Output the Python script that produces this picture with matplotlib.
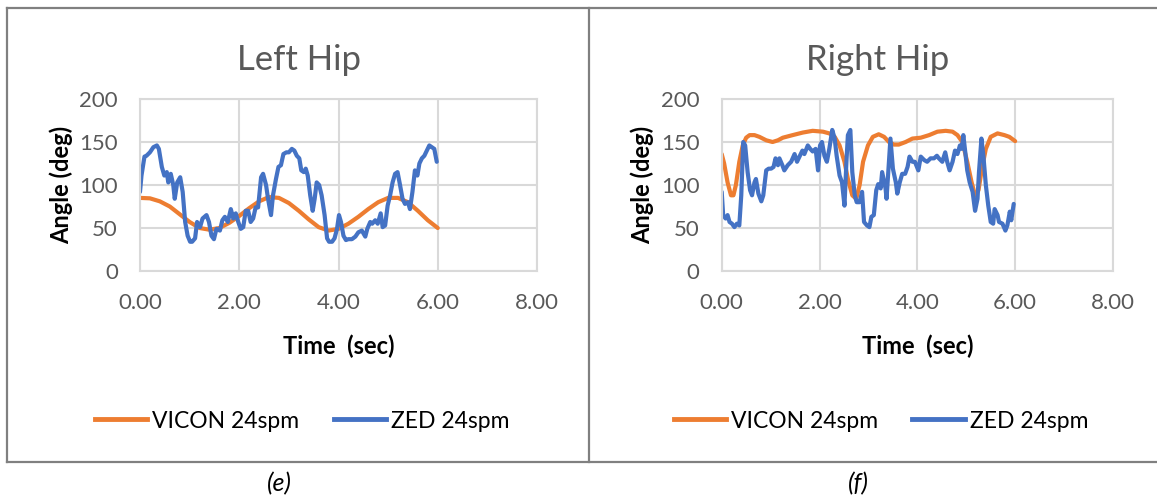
import matplotlib.pyplot as plt
from matplotlib.lines import Line2D

plt.rcParams['font.family'] = ['Lato', 'DejaVu Sans']

# Left hip - VICON reference (sec, deg)
left_vicon_t = [0.0, 0.2, 0.4, 0.6, 0.8, 1.0, 1.2, 1.4, 1.6, 1.8, 2.0, 2.2, 2.4, 2.6, 2.8, 3.0,
                3.2, 3.4, 3.6, 3.8, 4.0, 4.2, 4.4, 4.6, 4.8, 5.0, 5.2, 5.4, 5.6, 5.8, 6.0]
left_vicon = [85, 84.5, 81, 75, 66, 57, 50, 48, 50, 56, 64, 73, 81, 86, 85, 79,
              70, 60, 51, 47, 49, 55, 63, 72, 80, 85, 85, 80, 70, 59, 50]

# Left hip - ZED camera
left_zed_t = [0.00, 0.03, 0.09, 0.13, 0.20, 0.27, 0.34, 0.38, 0.44, 0.49, 0.54, 0.57, 0.62, 0.67,
              0.70, 0.75, 0.81, 0.86, 0.91, 0.96, 1.01, 1.05, 1.11, 1.15, 1.21, 1.26, 1.34, 1.39,
              1.44, 1.49, 1.54, 1.61, 1.66, 1.71, 1.77, 1.83, 1.88, 1.93, 1.98, 2.03, 2.08, 2.13,
              2.18, 2.23, 2.28, 2.33, 2.38, 2.44, 2.48, 2.54, 2.58, 2.64, 2.68, 2.74, 2.79, 2.84,
              2.89, 2.95, 3.00, 3.06, 3.11, 3.16, 3.21, 3.25, 3.30, 3.34, 3.38, 3.43, 3.48, 3.52,
              3.56, 3.61, 3.66, 3.72, 3.77, 3.81, 3.87, 3.92, 3.97, 4.01, 4.05, 4.10, 4.15, 4.20,
              4.27, 4.34, 4.40, 4.47, 4.54, 4.58, 4.64, 4.68, 4.74, 4.79, 4.85, 4.89, 4.94, 4.99,
              5.04, 5.09, 5.14, 5.19, 5.24, 5.29, 5.34, 5.40, 5.44, 5.49, 5.54, 5.59, 5.63, 5.68,
              5.73, 5.78, 5.83, 5.88, 5.93, 5.98]
left_zed = [92, 111, 133, 134, 138, 144, 146, 142, 121, 111, 115, 103, 113, 100,
            84, 103, 109, 92, 57, 41, 34, 34, 38, 57, 51, 61, 65, 57,
            41, 37, 49, 47, 59, 63, 57, 72, 61, 67, 57, 49, 51, 70,
            70, 57, 61, 74, 74, 109, 113, 100, 84, 65, 88, 107, 121, 123,
            136, 138, 138, 142, 140, 134, 131, 117, 115, 119, 111, 88, 70, 84,
            103, 100, 88, 65, 38, 34, 34, 38, 49, 65, 57, 41, 36, 37,
            37, 40, 45, 47, 40, 49, 57, 55, 59, 55, 67, 51, 53, 76,
            88, 103, 113, 115, 100, 84, 78, 80, 72, 92, 117, 111, 125, 131,
            134, 140, 146, 144, 142, 127]

# Right hip - VICON reference
right_vicon_t = [0.00, 0.05, 0.12, 0.19, 0.24, 0.29, 0.36, 0.43, 0.50, 0.57, 0.67, 0.77, 0.91, 1.04,
                 1.15, 1.25, 1.45, 1.66, 1.86, 2.07, 2.20, 2.31, 2.41, 2.51, 2.58, 2.67, 2.75, 2.82,
                 2.89, 2.99, 3.09, 3.21, 3.32, 3.42, 3.52, 3.62, 3.76, 3.90, 4.07, 4.24, 4.41, 4.58,
                 4.72, 4.82, 4.92, 5.02, 5.11, 5.18, 5.25, 5.32, 5.40, 5.50, 5.64, 5.78, 5.88, 6.00]
right_vicon = [136, 125, 103, 88, 88, 100, 127, 146, 155, 158, 158, 156, 152, 150,
               152, 155, 158, 161, 163, 162, 160, 156, 146, 127, 107, 88, 84, 100,
               127, 146, 156, 159, 156, 150, 147, 147, 150, 154, 155, 158, 162, 163,
               162, 158, 150, 127, 103, 88, 94, 119, 142, 156, 160, 158, 156, 151]

# Right hip - ZED camera
right_zed_t = [0.00, 0.03, 0.08, 0.12, 0.16, 0.21, 0.26, 0.31, 0.36, 0.40,
               0.44, 0.48, 0.53, 0.58, 0.62, 0.67, 0.70, 0.75, 0.81, 0.85,
               0.91, 0.96, 1.01, 1.06, 1.10, 1.15, 1.18, 1.24, 1.28, 1.35,
               1.42, 1.49, 1.54, 1.59, 1.65, 1.69, 1.76, 1.81, 1.86, 1.92,
               1.97, 2.01, 2.05, 2.10, 2.15, 2.20, 2.26, 2.31, 2.35, 2.41,
               2.46, 2.51, 2.55, 2.58, 2.63, 2.67, 2.72, 2.76, 2.82, 2.87,
               2.91, 2.97, 3.02, 3.06, 3.11, 3.16, 3.20, 3.25, 3.28, 3.35,
               3.37, 3.41, 3.45, 3.50, 3.56, 3.59, 3.64, 3.69, 3.75, 3.80,
               3.84, 3.90, 3.95, 4.02, 4.07, 4.14, 4.20, 4.27, 4.34, 4.40,
               4.44, 4.51, 4.57, 4.61, 4.66, 4.72, 4.77, 4.82, 4.87, 4.91,
               4.94, 4.98, 5.02, 5.07, 5.13, 5.18, 5.23, 5.26, 5.31, 5.35,
               5.40, 5.45, 5.50, 5.55, 5.58, 5.64, 5.67, 5.74, 5.80, 5.84,
               5.89, 5.92, 5.97]
right_zed = [92, 65, 61, 65, 57, 55, 51, 55, 53, 88,
             150, 146, 115, 94, 88, 103, 107, 90, 81, 88,
             117, 119, 119, 121, 131, 123, 131, 123, 117, 123,
             127, 136, 127, 133, 140, 136, 146, 142, 139, 142,
             117, 146, 150, 134, 127, 142, 164, 154, 134, 111,
             103, 76, 127, 158, 164, 115, 88, 80, 80, 92,
             57, 53, 51, 63, 65, 94, 101, 96, 115, 96,
             84, 119, 154, 119, 103, 90, 103, 113, 113, 121,
             133, 127, 127, 117, 133, 129, 127, 131, 131, 134,
             131, 127, 138, 127, 117, 127, 140, 136, 146, 142,
             158, 138, 117, 103, 92, 70, 84, 115, 154, 134,
             100, 76, 57, 55, 72, 65, 57, 55, 47, 53,
             69, 59, 78]

x_ticks = [0, 2, 4, 6, 8]
x_tick_labels = ['0.00', '2.00', '4.00', '6.00', '8.00']
y_ticks = [0, 50, 100, 150, 200]
titles = ['Left Hip', 'Right Hip']
captions = ['(e)', '(f)']
series_names = ['VICON 24spm', 'ZED 24spm']

ORANGE = '#ED7D31'
BLUE = '#4472C4'
GRID = '#D9D9D9'
TEXT = '#595959'
BORDER = '#808080'

W, H = 1157, 497
fig = plt.figure(figsize=(W / 100, H / 100), dpi=100)


def fx(x):
    return x / W


def fy(y):
    return 1 - y / H


def draw_chart(left, right, center, title, vicon_t, vicon, zed_t, zed, caption):
    ax = fig.add_axes([fx(left), fy(271), fx(right - left), (271 - 99) / H])
    ax.plot(vicon_t, vicon, color=ORANGE, lw=3, solid_capstyle='round')
    ax.plot(zed_t, zed, color=BLUE, lw=3, solid_capstyle='round')
    ax.set_xlim(0, 8)
    ax.set_ylim(0, 200)
    ax.set_xticks(x_ticks, x_tick_labels)
    ax.set_yticks(y_ticks)
    ax.grid(True, color=GRID, lw=1.5)
    ax.set_axisbelow(True)
    for s in ax.spines.values():
        s.set_color(GRID)
        s.set_linewidth(1.5)
    ax.tick_params(length=0, labelsize=16, labelcolor=TEXT)
    ax.tick_params(axis='x', pad=16)
    ax.tick_params(axis='y', pad=16)

    mid = (left + right) / 2
    fig.text(fx(center), fy(60), title, ha='center', va='center',
             fontsize=25, color=TEXT)
    fig.text(fx(left - 79), fy(185), 'Angle (deg)', rotation=90, ha='center', va='center',
             fontsize=17, fontweight='bold')
    fig.text(fx(mid), fy(346), 'Time  (sec)', ha='center', va='center',
             fontsize=17, fontweight='bold')

    handles = [Line2D([], [], color=ORANGE, lw=3.5), Line2D([], [], color=BLUE, lw=3.5)]
    fig.legend(handles, series_names, loc='center', bbox_to_anchor=(fx(center + 3), fy(421)),
               ncol=2, frameon=False, fontsize=16.5, handlelength=2.3, handletextpad=0.2,
               columnspacing=1.5, borderpad=0)
    fig.text(fx(center - 20), fy(484), caption, ha='center', va='center',
             fontsize=18, style='italic')


draw_chart(140, 537, 299, titles[0], left_vicon_t, left_vicon, left_zed_t, left_zed, captions[0])
draw_chart(721.7, 1113, 878, titles[1], right_vicon_t, right_vicon, right_zed_t, right_zed, captions[1])

# cell borders around the two charts
border_lines = [
    ([7, W], [8, 8]),
    ([7, W], [462, 462]),
    ([7, 7], [8, 462]),
    ([589, 589], [8, 462]),
]
for xs, ys in border_lines:
    fig.add_artist(Line2D([fx(v) for v in xs], [fy(v) for v in ys], color=BORDER, lw=1.6))

fig.savefig('out.png', dpi=100)
